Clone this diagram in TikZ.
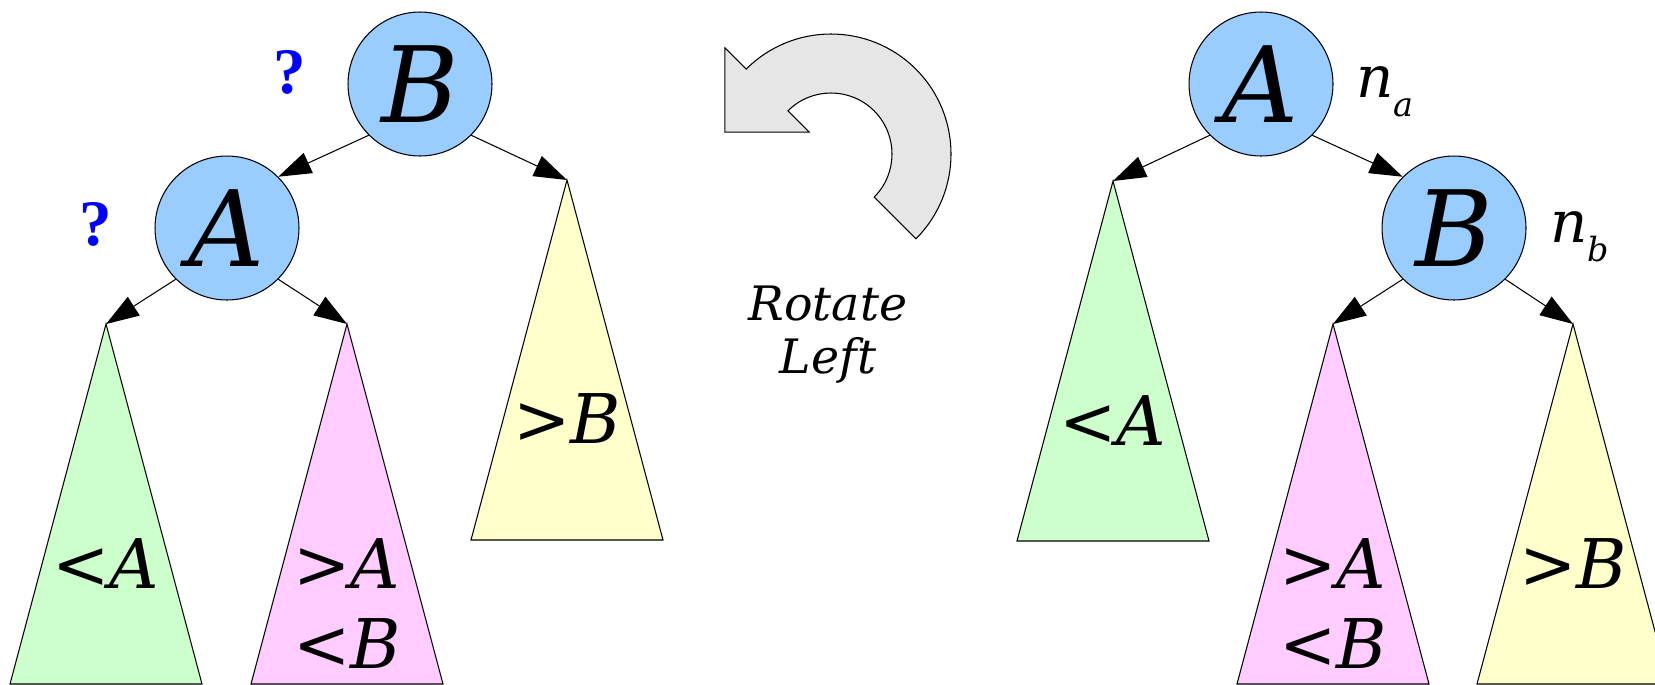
\documentclass[tikz,border=0pt]{standalone}
\usepackage{fontspec}
\setmainfont{DejaVu Serif}
\newfontfamily\askfont{Liberation Serif}
\usepackage{tikz}
\usetikzlibrary{arrows.meta,calc}
\definecolor{keyblue}{RGB}{153,204,255}
\definecolor{lessgreen}{RGB}{204,255,204}
\definecolor{midpink}{RGB}{255,204,255}
\definecolor{greatyellow}{RGB}{255,255,204}
\definecolor{rotgray}{RGB}{230,230,230}
\definecolor{askblue}{RGB}{0,0,255}

\begin{document}
\begin{tikzpicture}[
  x=0.02cm, y=-0.02cm,
  key/.style={circle, draw, fill=keyblue, minimum size=2.88cm, inner sep=0pt,
    line width=0.6pt, font=\fontsize{60}{60}\selectfont\itshape},
  subtree/.style={draw, line width=0.6pt},
  subtext/.style={anchor=base, align=center, inner sep=0pt,
    font=\fontsize{39}{45.4}\selectfont\itshape},
  arr/.style={-{Triangle[length=0.66cm, width=0.44cm]}, line width=0.6pt},
  ask/.style={anchor=base, inner sep=0pt, text=askblue,
    font=\askfont\bfseries\fontsize{37}{37}\selectfont},
  count/.style={anchor=base west, inner sep=0pt,
    font=\fontsize{33}{33}\selectfont\itshape},
  rotarrow/.style={draw, fill=rotgray, line width=0.6pt, line join=miter},
  rottext/.style={anchor=base, align=center, inner sep=0pt,
    font=\fontsize{27}{30}\selectfont\itshape}
]
  \useasboundingbox (0,0) rectangle (1655,684);
  \clip (0,0) rectangle (1655,684);

  % Before: B on top
  \node[key] (lB) at (420,84) {B};
  \node[key] (lA) at (227,228) {A};
  \coordinate (lless) at (106,324);
  \coordinate (lmid) at (347,324);
  \coordinate (lgreat) at (567,180);

  % After: A on top
  \node[key] (rA) at (1261,84) {A};
  \node[key] (rB) at (1454,228) {B};
  \coordinate (rless) at (1113,181);
  \coordinate (rmid) at (1333,324);
  \coordinate (rgreat) at (1573,324);

  % Subtrees
  \path[subtree, fill=lessgreen] (lless) -- ++(-96,360) -- ++(192,0) -- cycle;
  \path[subtree, fill=midpink] (lmid) -- ++(-96,360) -- ++(192,0) -- cycle;
  \path[subtree, fill=greatyellow] (lgreat) -- ++(-96,360) -- ++(192,0) -- cycle;
  \path[subtree, fill=lessgreen] (rless) -- ++(-96,360) -- ++(192,0) -- cycle;
  \path[subtree, fill=midpink] (rmid) -- ++(-96,360) -- ++(192,0) -- cycle;
  \path[subtree, fill=greatyellow] (rgreat) -- ++(-96,360) -- ++(192,0) -- cycle;

  % (base of a two-line node is its last line)
  \node[subtext] (llesstxt) at ($(lless)+(0,264)$) {<A};
  \node[subtext] (lmidtxt) at ($(lmid)+(0,344)$) {>A\\<B};
  \node[subtext] (lgreattxt) at ($(lgreat)+(0,263)$) {>B};
  \node[subtext] (rlesstxt) at ($(rless)+(0,264)$) {<A};
  \node[subtext] (rmidtxt) at ($(rmid)+(0,344)$) {>A\\<B};
  \node[subtext] (rgreattxt) at ($(rgreat)+(0,264)$) {>B};

  % Links
  \draw[arr] (lB.-135) -- (lA.45);
  \draw[arr] (lB.-45) -- (lgreat);
  \draw[arr] (lA.-135) -- (lless);
  \draw[arr] (lA.-45) -- (lmid);
  \draw[arr] (rA.-135) -- (rless);
  \draw[arr] (rA.-45) -- (rB.135);
  \draw[arr] (rB.-135) -- (rmid);
  \draw[arr] (rB.-45) -- (rgreat);

  % Labels
  \node[ask] (lBask) at (290,93) {?};
  \node[ask] (lAask) at (96,245) {?};
  \node[count] (rAcount) at (1356,97) {n\raisebox{-11pt}{\fontsize{19}{19}\selectfont a}};
  \node[count] (rBcount) at (1550,242) {n\raisebox{-11pt}{\fontsize{19}{19}\selectfont b}};

  % Rotation arrow
  \coordinate (rot) at (831,154);
  \draw[rotarrow] ($(rot)+(225:120)$) arc[start angle=225, end angle=405, radius=120]
    -- ($(rot)+(45:61)$) arc[start angle=45, end angle=-135, radius=61]
    -- ($(rot)+(225:31)$) -- ($(rot)+(225:90.5)+(135:59.5)$)
    -- ($(rot)+(225:150)$) -- cycle;
  \node[rottext] (rotlbl) at (828,373) {Rotate\\Left};
\end{tikzpicture}
\end{document}
